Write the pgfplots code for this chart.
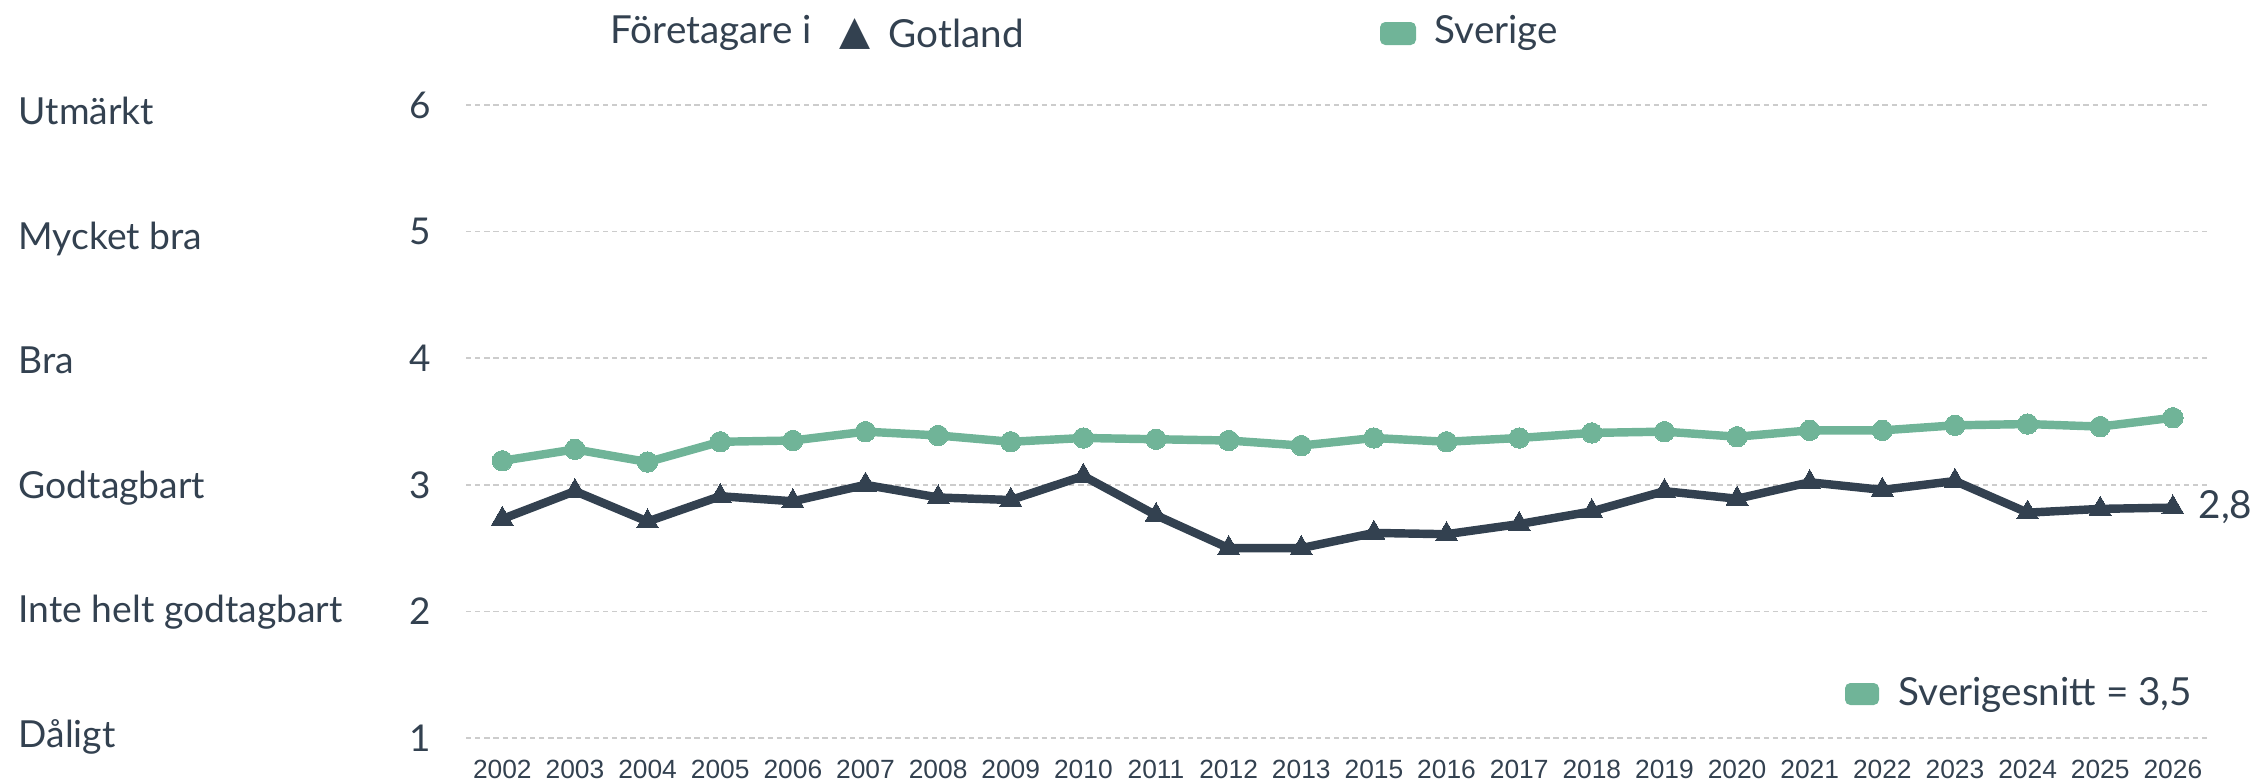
\documentclass[border=0pt]{standalone}
\usepackage{fontspec}
\setmainfont{Lato}
\newfontfamily\yearfont{Liberation Sans}
\newfontfamily\symfont{DejaVu Sans}
\usepackage{pgfplots}
\pgfplotsset{compat=1.18}

\definecolor{dark}{HTML}{334150}
\definecolor{sgreen}{HTML}{70B498}
\definecolor{gridc}{HTML}{CCCCCC}

% x = index of the year (2014 is missing in the source)
\pgfplotstableread{
x  sverige gotland
0  3.19 2.73
1  3.28 2.95
2  3.18 2.71
3  3.34 2.91
4  3.35 2.87
5  3.42 3.00
6  3.39 2.90
7  3.34 2.88
8  3.37 3.07
9  3.36 2.76
10 3.35 2.50
11 3.31 2.50
12 3.37 2.62
13 3.34 2.61
14 3.37 2.69
15 3.41 2.79
16 3.42 2.95
17 3.38 2.89
18 3.43 3.02
19 3.43 2.96
20 3.47 3.03
21 3.48 2.78
22 3.46 2.81
23 3.53 2.82
}\ratings

\begin{document}
\begin{tikzpicture}[x=1cm,y=1cm]
\useasboundingbox (0,0) rectangle (22.6,7.81);

\begin{axis}[
    at={(4.66cm,0.43cm)}, anchor=south west,
    scale only axis, width=17.41cm, height=6.33cm,
    xmin=-0.5, xmax=23.47, ymin=1, ymax=6,
    clip=false,
    axis line style={draw=none}, major tick length=0pt,
    ymajorgrids, major grid style={gridc, line width=0.45pt, dash pattern=on 1.5pt off 1.1pt},
    ytick={1,2,3,4,5,6},
    /pgf/number format/assume math mode=true,
    yticklabel style={font=\fontsize{10.5}{12}\selectfont, text=dark, anchor=east, inner sep=0pt, xshift=-0.34cm},
    xtick={0,...,23},
    xticklabels={2002,2003,2004,2005,2006,2007,2008,2009,2010,2011,2012,2013,2015,2016,2017,2018,2019,2020,2021,2022,2023,2024,2025,2026},
    xticklabel style={font=\yearfont\fontsize{7.5}{9}\selectfont, text=dark, anchor=base, inner sep=0pt, yshift=-0.40cm},
]
\addplot[sgreen, line width=2.4pt, line join=round, mark=*, mark size=2.9pt, mark options={solid, fill=sgreen, draw=sgreen, line width=0pt}]
    table[x=x, y=sverige] {\ratings};
\addplot[dark, line width=2.4pt, line join=round, mark=triangle*, mark size=3.6pt, mark options={solid, fill=dark, draw=dark, line width=0pt}]
    table[x=x, y=gotland] {\ratings};
\node[anchor=west, inner sep=0pt, text=dark, font=\fontsize{11}{13}\selectfont, xshift=0.25cm] at (axis cs:23,2.82) {2,8};
\end{axis}

% rating names at the left
\begin{scope}[every node/.style={anchor=base west, inner sep=0pt, text=dark, font=\fontsize{10.6}{12}\selectfont}]
\node at (0.18,6.565) {Utmärkt};
\node at (0.18,5.319) {Mycket bra};
\node at (0.18,4.073) {Bra};
\node at (0.18,2.827) {Godtagbart};
\node at (0.18,1.581) {Inte helt godtagbart};
\node at (0.18,0.335) {Dåligt};
\end{scope}

% legend on top
\begin{scope}[every node/.style={inner sep=0pt, text=dark, font=\fontsize{11}{13}\selectfont}]
\node[anchor=west] at (6.10,7.48) {Företagare i};
\node[text=dark, font=\symfont\fontsize{11.5}{13}\selectfont] at (8.55,7.47) {▲};
\node[anchor=west] at (8.88,7.48) {Gotland};
\node[fill=sgreen, rounded corners=1.5pt, minimum width=0.36cm, minimum height=0.23cm] at (13.98,7.475) {};
\node[anchor=west] at (14.34,7.48) {Sverige};
% average note
\node[fill=sgreen, rounded corners=1.5pt, minimum width=0.34cm, minimum height=0.22cm] at (18.62,0.87) {};
\node[anchor=west] at (18.98,0.86) {Sverigesnitt = 3,5};
\end{scope}
\end{tikzpicture}
\end{document}
